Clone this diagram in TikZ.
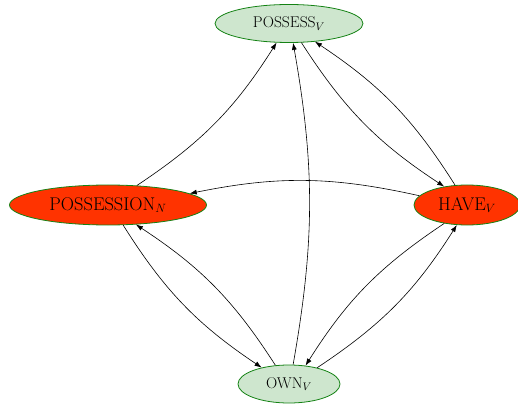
\documentclass[tikz,border=0pt]{standalone}
\usetikzlibrary{shapes.geometric,arrows.meta}
\definecolor{lgreen}{RGB}{206,230,206}
\definecolor{dgreen}{RGB}{20,130,20}
\definecolor{hred}{RGB}{255,51,0}
\begin{document}
\begin{tikzpicture}[x=1pt,y=1pt,
  base/.style={ellipse,draw=dgreen,line width=0.8pt,inner sep=0pt},
  gnode/.style={base,fill=lgreen,font=\fontsize{15.6}{18}\selectfont},
  rnode/.style={base,fill=hred,font=\fontsize{18.4}{21}\selectfont},
  edge/.style={-{Latex[length=7pt,width=5pt]},line width=0.6pt,black}]
\useasboundingbox (0,0) rectangle (518,407);
\node[gnode,minimum width=148pt,minimum height=38pt] (pv) at (289,383.5) {POSSESS$_V$};
\node[rnode,minimum width=197pt,minimum height=40pt] (pn) at (108,202) {POSSESSION$_N$};
\node[rnode,minimum width=106pt,minimum height=40pt] (hv) at (467,202) {HAVE$_V$};
\node[gnode,minimum width=102pt,minimum height=38pt] (ov) at (289,23) {OWN$_V$};
\draw[edge] (pn.34) to[bend right=12] (pv.237);
\draw[edge] (pv.303) to[bend right=12] (hv.141.6);
\draw[edge] (hv.121) to[bend right=12] (pv.325);
\draw[edge] (hv.169.8) to[bend right=12] (pn.8.7);
\draw[edge] (ov.78) to[bend right=10] (pv.282);
\draw[edge] (pn.307) to[bend right=12] (ov.149);
\draw[edge] (ov.126) to[bend right=12] (pn.325.5);
\draw[edge] (hv.219.8) to[bend right=12] (ov.48);
\draw[edge] (ov.30) to[bend right=12] (hv.243.4);
\end{tikzpicture}
\end{document}
